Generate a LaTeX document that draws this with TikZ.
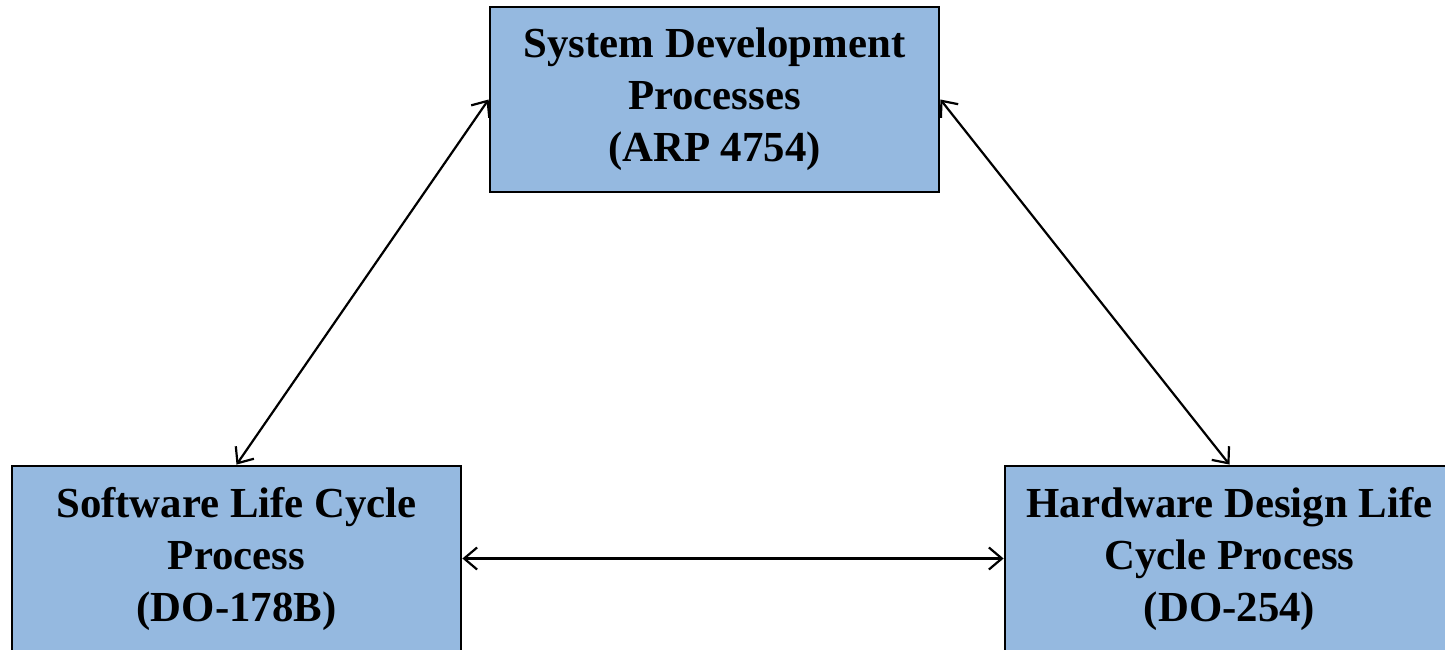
\documentclass[tikz,border=0pt]{standalone}
\usepackage{fontspec}
\setmainfont{Liberation Serif}
\usepackage{tikz}
\usetikzlibrary{positioning}
\usetikzlibrary{arrows.meta}

\definecolor{boxblue}{HTML}{95B9E0}

\begin{document}
\begin{tikzpicture}[
    x=0.5pt, y=0.5pt,           % one unit is one pixel of the sketch
    ]
% -------------------------------------------------
\tikzset{
  base/.style={draw, line width=1.4pt, align=center, font=\fontsize{21.4}{26}\selectfont\bfseries},
  proc/.style={base, rectangle, fill=boxblue, minimum width=224.5pt, minimum height=92.5pt, inner sep=0pt},
  line/.style={draw, line width=1.1pt, {Straight Barb[length=6.5pt,width=11pt]}-{Straight Barb[length=6.5pt,width=11pt]}}
}
% -------------------------------------------------
\useasboundingbox (0,0) rectangle (1445,649);
\clip (0,0) rectangle (1445,649);

% Placing the nodes
\node [proc] (sys) at (714.5,549.5) {System Development\\Processes\\(ARP 4754)};
\node [proc] (sw) at (236.5,90.5) {Software Life Cycle\\Process\\(DO-178B)};
\node [proc] (hw) at (1229.5,90.5) {Hardware Design Life\\Cycle Process\\(DO-254)};

\path [line] (sys.west) -- (sw.north);
\path [line] (sys.east) -- (hw.north);
\path [line] (sw.east) -- (hw.west);

\end{tikzpicture}
\end{document}
